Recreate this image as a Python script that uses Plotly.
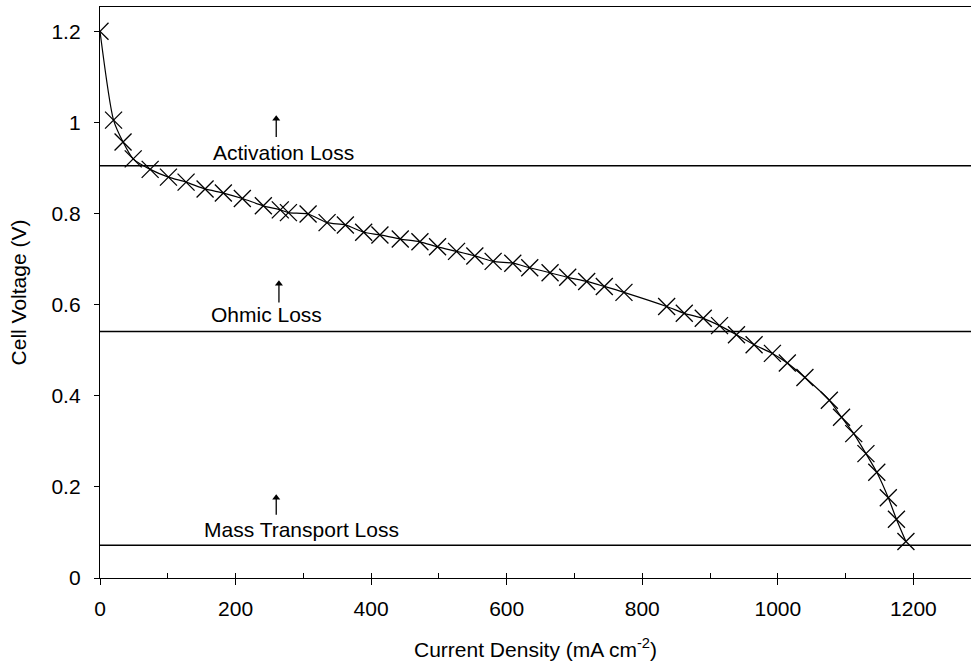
import plotly.graph_objects as go

current_density = [0, 20, 34, 49, 74, 101, 127, 155, 182, 210, 241, 266, 278, 307,
                   335, 362, 389, 413, 443, 472, 498, 526, 553, 580, 609, 634, 664,
                   690, 718, 744, 773, 836, 862, 890, 914, 939, 965, 992, 1014, 1040,
                   1076, 1094, 1112, 1130, 1146, 1163, 1175, 1189]
cell_voltage = [1.200, 1.005, 0.957, 0.920, 0.897, 0.880, 0.869, 0.854, 0.845, 0.833,
                0.817, 0.808, 0.802, 0.799, 0.780, 0.775, 0.759, 0.753, 0.744, 0.738,
                0.727, 0.717, 0.707, 0.695, 0.691, 0.681, 0.670, 0.660, 0.651, 0.640,
                0.627, 0.596, 0.581, 0.570, 0.554, 0.534, 0.512, 0.493, 0.472, 0.440,
                0.390, 0.353, 0.317, 0.273, 0.232, 0.176, 0.129, 0.080]

loss_levels = [0.905, 0.541, 0.072]
loss_labels = ["Activation Loss", "Ohmic Loss", "Mass Transport Loss"]
label_x = [270, 246, 298]
label_y = [0.935, 0.578, 0.106]
arrow_x = [260, 264, 260]
arrow_tail_y = [0.968, 0.605, 0.139]
arrow_tip_y = [1.016, 0.654, 0.184]

x_range = [0, 1285]
y_range = [0, 1.2534]

FONT = "Liberation Sans, Arial, sans-serif"
FS = 21
HEAD_OFFSET = 0.008  # arrow head marker centre sits slightly below the tip

fig = go.Figure()
fig.add_trace(go.Scatter(
    x=current_density, y=cell_voltage, mode="lines+markers",
    line=dict(color="black", width=1.2, shape="spline", smoothing=0.7),
    marker=dict(symbol="x-thin-open", size=17, color="black",
                line=dict(color="black", width=1.3)),
    showlegend=False, hoverinfo="skip"))
# helper overlay axis for inside ticks
fig.add_trace(go.Scatter(x=[None], y=[None], xaxis="x2", showlegend=False, hoverinfo="skip"))

for lvl in loss_levels:
    fig.add_shape(type="line", xref="x domain", yref="y", x0=0, x1=1, y0=lvl, y1=lvl,
                  line=dict(color="black", width=1.5), layer="below")

for lab, lx, ly, ax, ty, hy in zip(loss_labels, label_x, label_y, arrow_x, arrow_tail_y, arrow_tip_y):
    fig.add_annotation(x=lx, y=ly, text=lab, showarrow=False,
                       font=dict(family=FONT, size=FS, color="black"),
                       xanchor="center", yanchor="middle")
    # arrow shaft
    fig.add_trace(go.Scatter(x=[ax, ax], y=[ty, hy - HEAD_OFFSET], mode="lines",
                             line=dict(color="black", width=1.3),
                             showlegend=False, hoverinfo="skip"))
    # arrow head
    fig.add_trace(go.Scatter(x=[ax], y=[hy - HEAD_OFFSET], mode="markers",
                             marker=dict(symbol="triangle-up", size=7, color="black",
                                         line=dict(width=0)),
                             showlegend=False, hoverinfo="skip"))

fig.update_layout(
    width=971, height=665,
    margin=dict(l=100, r=0, t=7, b=87, autoexpand=False),
    plot_bgcolor="white", paper_bgcolor="white",
    font=dict(family=FONT, size=FS, color="black"),
    xaxis=dict(range=x_range, tickmode="linear", tick0=0, dtick=200,
               ticks="outside", ticklen=6, tickwidth=1, tickcolor="black",
               showline=True, linecolor="black", linewidth=1.3, mirror=True,
               showgrid=False, zeroline=False, automargin=False,
               tickfont=dict(size=FS), ticklabelstandoff=6,
               title=dict(text="Current Density (mA cm<sup>-2</sup>)", standoff=22,
                          font=dict(size=FS))),
    xaxis2=dict(range=x_range, overlaying="x", anchor="y", side="bottom",
                tickmode="linear", tick0=0, dtick=100, ticks="inside", ticklen=5,
                tickwidth=1, tickcolor="black", showticklabels=False, automargin=False,
                showline=False, showgrid=False, zeroline=False),
    yaxis=dict(range=y_range, tickmode="array",
               tickvals=[0, 0.2, 0.4, 0.6, 0.8, 1.0, 1.2],
               ticktext=["0", "0.2", "0.4", "0.6", "0.8", "1", "1.2"],
               ticks="outside", ticklen=5, tickwidth=1, tickcolor="black",
               showline=True, linecolor="black", linewidth=1.3, automargin=False,
               showgrid=False, zeroline=False, tickfont=dict(size=FS),
               ticklabelstandoff=9,
               title=dict(text="Cell Voltage (V)", standoff=19, font=dict(size=FS))),
)

fig.write_html("out.html", config={"displayModeBar": False},
               post_script="document.body.style.margin='0';document.body.style.padding='0';")
